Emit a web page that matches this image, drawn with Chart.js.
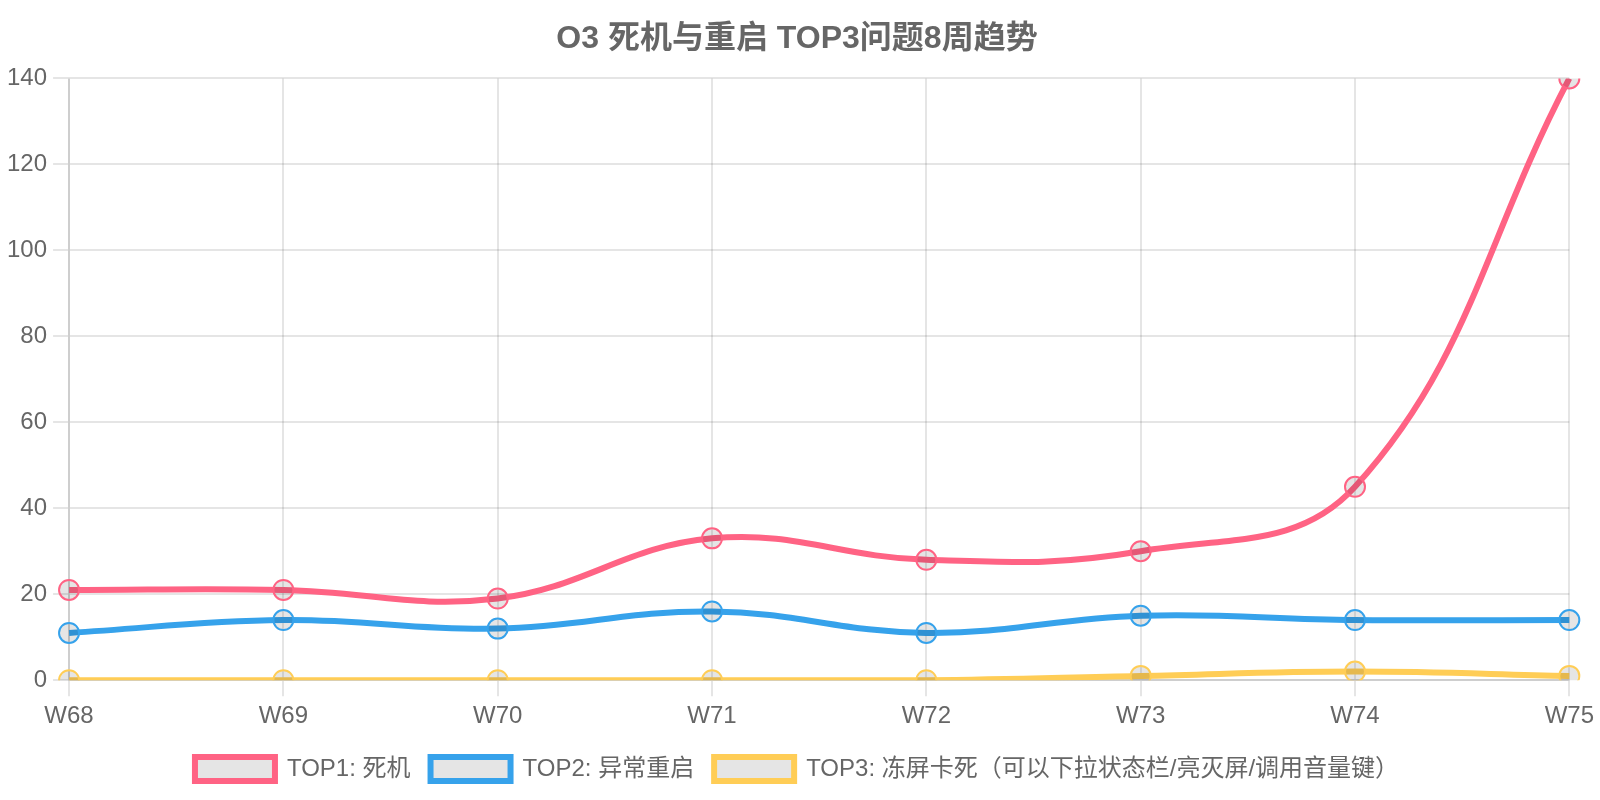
<!DOCTYPE html>
<html>
<head>
<meta charset="utf-8">
<script src="https://cdn.jsdelivr.net/npm/chart.js@4"></script>
<style>
  html, body { margin: 0; padding: 0; background: #fff; }
  #wrap { width: 1600px; height: 800px; }
</style>
</head>
<body>
<div id="wrap"><canvas id="myChart"></canvas></div>
<script>
const weeks = ["W68", "W69", "W70", "W71", "W72", "W73", "W74", "W75"];
const top1 = [21, 21, 19, 33, 28, 30, 45, 140];
const top2 = [11, 14, 12, 16, 11, 15, 14, 14];
const top3 = [0, 0, 0, 0, 0, 1, 2, 1];
const seriesNames = ["TOP1: 死机", "TOP2: 异常重启", "TOP3: 冻屏卡死（可以下拉状态栏/亮灭屏/调用音量键）"];

Chart.defaults.font.family = "'Liberation Sans', Arial, 'Noto Sans CJK SC', sans-serif";
Chart.defaults.color = "#666";

function line(label, data, color) {
  return {
    label: label,
    data: data,
    borderColor: color,
    backgroundColor: "rgba(0,0,0,0.1)",
    borderWidth: 6,
    pointRadius: 10,
    pointHoverRadius: 10,
    pointBorderWidth: 2,
    tension: 0.4,
    fill: false,
  };
}

const ctx = document.getElementById("myChart");
new Chart(ctx, {
  type: "line",
  data: {
    labels: weeks,
    datasets: [
      line(seriesNames[0], top1, "#ff6384"),
      line(seriesNames[1], top2, "#36a2eb"),
      line(seriesNames[2], top3, "#ffcd56"),
    ],
  },
  options: {
    responsive: true,
    maintainAspectRatio: false,
    animation: false,
    layout: { padding: { left: 1, right: 7, top: 0, bottom: 9 } },
    plugins: {
      title: {
        display: true,
        text: "O3 死机与重启 TOP3问题8周趋势",
        font: { size: 32, weight: "bold" },
        padding: { top: 20, bottom: 20 },
      },
      legend: {
        position: "bottom",
        labels: {
          font: { size: 24 },
          boxWidth: 80,
          padding: 20,
        },
      },
    },
    scales: {
      x: {
        ticks: { font: { size: 24 }, padding: 6 },
        grid: { lineWidth: 2, tickLength: 16 },
        border: { width: 2 },
      },
      y: {
        min: 0,
        max: 140,
        ticks: { stepSize: 20, font: { size: 24 }, padding: 6 },
        grid: { lineWidth: 2, tickLength: 16 },
        border: { width: 2 },
      },
    },
  },
});
</script>
</body>
</html>
